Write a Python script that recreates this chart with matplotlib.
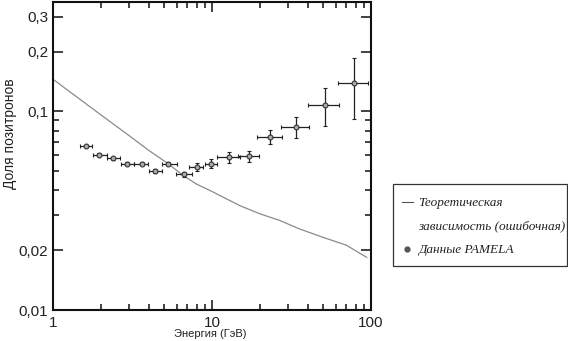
import matplotlib
matplotlib.use("Agg")
import matplotlib.pyplot as plt
import numpy as np
from matplotlib.ticker import FixedLocator, NullFormatter
from matplotlib.lines import Line2D
from matplotlib.patches import Rectangle

# PAMELA data
energy = [1.61, 1.95, 2.37, 2.93, 3.61, 4.40, 5.29, 6.67, 8.05, 9.86, 12.7, 17.0, 23.1, 33.6, 51.1, 78.2]
fraction = [0.0668, 0.0604, 0.0581, 0.0546, 0.0546, 0.0500, 0.0545, 0.0482, 0.0526, 0.0546, 0.0586, 0.0593, 0.0745, 0.0834, 0.1076, 0.1384]
e_lo = [1.48, 1.776, 2.177, 2.68, 3.23, 4.03, 4.82, 5.95, 7.2, 9.1, 10.8, 14.6, 19.3, 27.0, 40.4, 61.7]
e_hi = [1.77, 2.177, 2.64, 3.23, 3.97, 4.82, 6.0, 7.5, 8.8, 10.7, 14.9, 19.7, 27.4, 41.0, 62.6, 95.2]
frac_err = [0.001, 0.001, 0.001, 0.001, 0.001, 0.001, 0.001, 0.0015, 0.0025, 0.003, 0.0035, 0.004, 0.0064, 0.010, 0.023, 0.047]

# Theoretical curve
theory_e = [1, 2, 3, 4, 5.3, 6.6, 8, 10, 11.8, 15, 20, 26.8, 35, 50, 70, 94]
theory_f = [0.145, 0.096, 0.0756, 0.0636, 0.0545, 0.0475, 0.043, 0.0395, 0.0369, 0.0335, 0.0305, 0.0282, 0.0257, 0.0232, 0.0212, 0.0184]

y_ticks = [0.01, 0.02, 0.1, 0.2, 0.3]
y_tick_labels = ["0,01", "0,02", "0,1", "0,2", "0,3"]
x_ticks = [1, 10, 100]
x_tick_labels = ["1", "10", "100"]

legend_labels = ["Теоретическая", "зависимость (ошибочная)", "Данные PAMELA"]

plt.rcParams['font.family'] = ['Liberation Sans', 'DejaVu Sans']

fig = plt.figure(figsize=(5.68, 3.41), dpi=100)
ax = fig.add_axes([53/568, 1-310/341, (371-53)/568, (310-2)/341])

ax.plot(theory_e, theory_f, color='#8a8a8a', lw=0.9)

e = np.array(energy)
xerr = np.array([e - np.array(e_lo), np.array(e_hi) - e])
ax.errorbar(energy, fraction, xerr=xerr, yerr=frac_err, fmt='o', ms=3.5,
            mfc='#aaaaaa', mec='#333333', mew=0.8, ecolor='#222222',
            elinewidth=0.9, capsize=1.2, capthick=0.8)

ax.set_xscale('log')
ax.set_yscale('log')
ax.set_xlim(1, 100)
ax.set_ylim(0.01, 0.355)

ax.yaxis.set_major_locator(FixedLocator(y_ticks))
ax.set_yticklabels(y_tick_labels)
ax.yaxis.set_minor_locator(FixedLocator([0.03, 0.04, 0.05, 0.06, 0.07, 0.08, 0.09]))
ax.yaxis.set_minor_formatter(NullFormatter())
ax.xaxis.set_major_locator(FixedLocator(x_ticks))
ax.set_xticklabels(x_tick_labels)
ax.xaxis.set_minor_locator(FixedLocator([2, 3, 4, 5, 6, 7, 8, 9, 20, 30, 40, 50, 60, 70, 80, 90]))
ax.xaxis.set_minor_formatter(NullFormatter())

ax.tick_params(which='both', direction='in', top=True, right=True, width=1.2,
               labelsize=11, colors='#222222')
ax.tick_params(which='major', length=7)
ax.tick_params(which='minor', length=4)
ax.tick_params(axis='x', pad=4)
for s in ax.spines.values():
    s.set_linewidth(1.5)
    s.set_color('#111111')

fig.text(0.018, 1-134/341, "Доля позитронов", rotation=90, ha='center', va='center',
         fontsize=10, color='#222222')
fig.text(210/568, 1-334/341, "Энергия (ГэВ)", ha='center', va='center',
         fontsize=8, color='#222222')

# legend frame
fig.add_artist(Rectangle((393/568, 1-266/341), 174/568, 82/341, transform=fig.transFigure,
                         fill=False, edgecolor='#333333', lw=0.9))

handles = [Line2D([], [], color='#555555', lw=0.8),
           Line2D([], [], color='none', lw=0),
           Line2D([], [], ls='', marker='o', ms=3.5, mfc='#555555', mec='#555555')]
leg = fig.legend(handles, legend_labels, loc='upper left',
                 bbox_to_anchor=(402/568, 1-197/341), borderaxespad=0.0,
                 frameon=False,
                 handlelength=0.8, handletextpad=0.4, labelspacing=0.85, borderpad=0.0,
                 prop={'family': 'Liberation Serif', 'style': 'italic', 'size': 9.5})
for t in leg.get_texts():
    t.set_color('#222222')

fig.savefig("out.png", dpi=100)
